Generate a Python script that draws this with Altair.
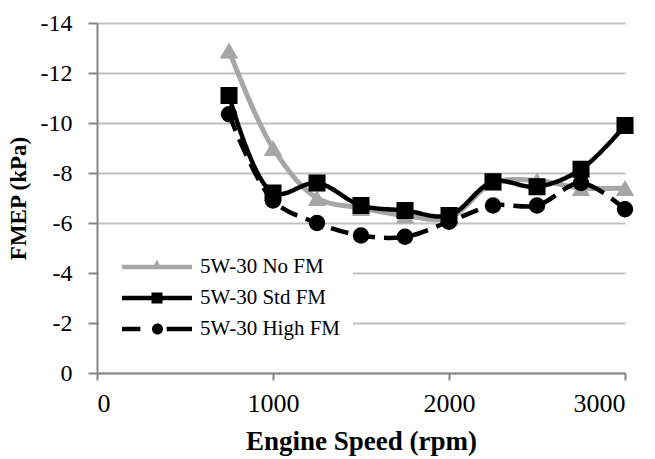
import altair as alt
import pandas as pd

speed = [750, 1000, 1250, 1500, 1750, 2000, 2250, 2500, 2750, 3000]
no_fm = [-12.9, -9.0, -7.0, -6.6, -6.3, -6.2, -7.6, -7.7, -7.4, -7.4]
std_fm = [-11.1, -7.2, -7.6, -6.7, -6.5, -6.3, -7.65, -7.45, -8.15, -9.9]
high_fm = [-10.35, -6.9, -6.0, -5.5, -5.45, -6.05, -6.7, -6.7, -7.6, -6.55]

series_names = ["5W-30 No FM", "5W-30 Std FM", "5W-30 High FM"]
series_values = [no_fm, std_fm, high_fm]
series_colors = ["#A6A6A6", "#000000", "#000000"]
series_shapes = ["triangle-up", "square", "circle"]
series_sizes = [340, 290, 270]
series_dash = [[1, 0], [1, 0], [18, 9]]
series_width = [5, 4.5, 4.5]

rows = []
for name, vals in zip(series_names, series_values):
    for s, v in zip(speed, vals):
        rows.append({"Speed": s, "FMEP": v, "Series": name})
df = pd.DataFrame(rows)

FONT = "Liberation Serif"

x_enc = alt.X("Speed:Q",
              scale=alt.Scale(domain=[0, 3000], nice=False),
              axis=alt.Axis(values=[0, 1000, 2000, 3000], title="Engine Speed (rpm)",
                            labelExpr="'' + datum.value", labelFontSize=26,
                            titleFontSize=27,
                            grid=False, tickSize=7, labelPadding=10, titlePadding=12))
y_enc = alt.Y("FMEP:Q",
              scale=alt.Scale(domain=[-14, 0], reverse=True, nice=False),
              axis=alt.Axis(values=list(range(-14, 1, 2)), title="FMEP (kPa)",
                            labelExpr="'' + datum.value", labelFontSize=24,
                            titleFontSize=23,
                            grid=True, tickSize=9, labelPadding=16, titlePadding=10))

layers = []
for i, name in enumerate(series_names):
    base = alt.Chart(df).transform_filter(alt.datum.Series == name)
    line = base.mark_line(
        color=series_colors[i], strokeWidth=series_width[i],
        strokeDash=series_dash[i], interpolate="catmull-rom"
    ).encode(x=x_enc, y=y_enc)
    pts = base.mark_point(
        shape=series_shapes[i], size=series_sizes[i], filled=True,
        color=series_colors[i], opacity=1
    ).encode(x=x_enc, y=y_enc)
    layers += [line, pts]

# legend symbols: line + marker as custom paths (unit = 11 px, drawn to the right)
tri = "M0,-0.21H6.36V0.21H0Z M3.18,-0.68L3.62,0.21H2.74Z"
sq = "M0,-0.21H6.36V0.21H0Z M2.68,-0.5H3.68V0.5H2.68Z"
circ = ("M0,-0.21H1.67V0.21H0Z M4.06,-0.21H6.36V0.21H4.06Z "
        "M3.73,0 A0.5,0.5 0 1,1 2.73,0 A0.5,0.5 0 1,1 3.73,0 Z")
legend_df = pd.DataFrame({"Series": series_names})

leg = dict(title=None, orient="none", legendX=2, legendY=221,
           symbolSize=484, labelFont=FONT, labelFontSize=21,
           labelColor="black", fillColor="white",
           padding=12, rowPadding=10, labelOffset=67,
           symbolStrokeWidth=0, symbolOpacity=1)

legend_layer = alt.Chart(legend_df).transform_filter("false").mark_point(
    filled=True, opacity=1
).encode(
    x=alt.X("Speed:Q", scale=alt.Scale(domain=[0, 3000])),
    y=alt.Y("FMEP:Q"),
    shape=alt.Shape("Series:N",
                    scale=alt.Scale(domain=series_names, range=[tri, sq, circ]),
                    legend=alt.Legend(**leg)),
    fill=alt.Fill("Series:N",
                  scale=alt.Scale(domain=series_names, range=series_colors),
                  legend=alt.Legend(**leg)),
)

chart = alt.layer(*layers, legend_layer).properties(
    width=528, height=350,
    autosize=alt.AutoSizeParams(type="none"),
    padding={"left": 97, "top": 23, "right": 30, "bottom": 86},
).configure_view(stroke=None).configure_axis(
    labelFont=FONT, labelColor="black",
    titleFont=FONT, titleFontWeight="bold", titleColor="black",
    domainColor="#868686", domainWidth=2, tickColor="#868686", tickWidth=2,
    gridColor="#C0C0C0", gridWidth=2,
)

chart.save("out.html", embed_options={"renderer": "svg", "actions": False})
